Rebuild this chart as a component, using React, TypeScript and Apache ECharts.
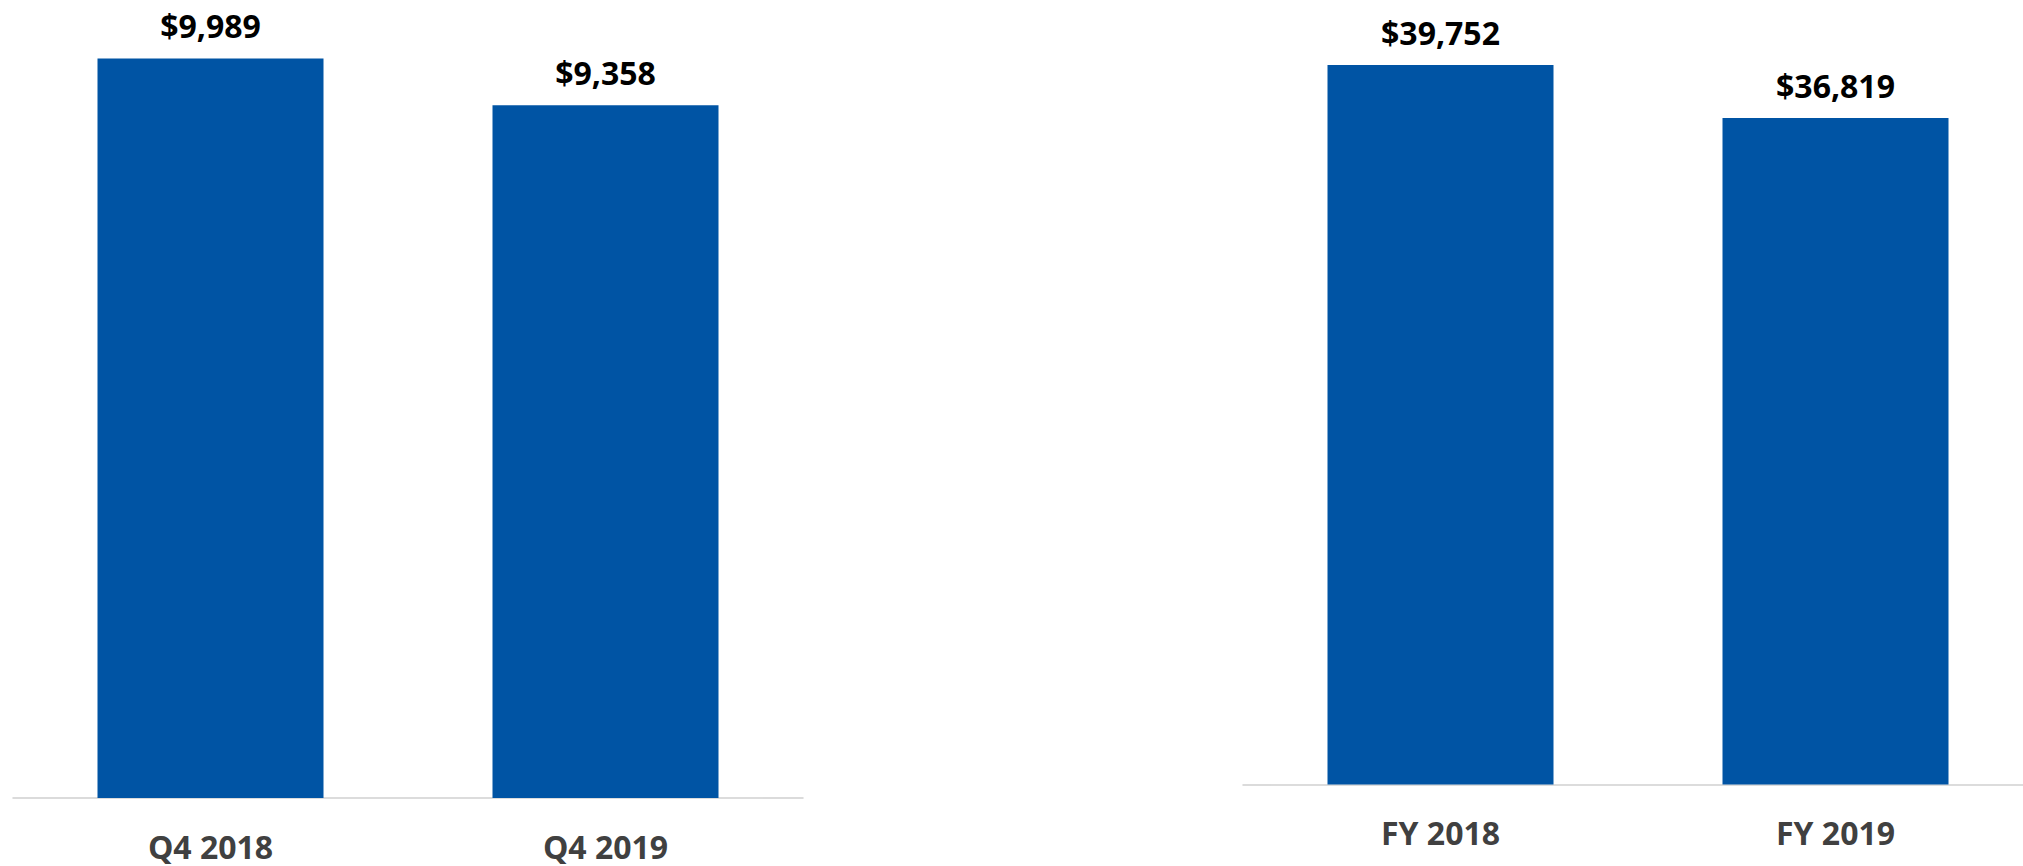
import React, { useEffect, useRef } from "react";
import * as echarts from "echarts";

const quarterCategories = ["Q4 2018", "Q4 2019"];
const quarterValues = [9989, 9358];
const yearCategories = ["FY 2018", "FY 2019"];
const yearValues = [39752, 36819];

const BAR_COLOR = "#0054A4";
const FONT = "'Open Sans', 'Noto Sans', sans-serif";

const fmt = (v: number) => "$" + v.toLocaleString("en-US");

export default function App() {
  const ref = useRef<HTMLDivElement>(null);
  useEffect(() => {
    if (!ref.current) return;
    const chart = echarts.init(ref.current, undefined, { renderer: "svg" });
    const xAxisBase = (gridIndex: number, data: string[]) => ({
      type: "category" as const,
      gridIndex,
      data,
      axisLine: { show: true, lineStyle: { color: "#d0d0d0", width: 1.5 } },
      axisTick: { show: false },
      axisLabel: {
        color: "#404040",
        fontFamily: FONT,
        fontWeight: "bold" as const,
        fontSize: 32,
        margin: 32,
      },
      splitLine: { show: false },
    });
    const yAxisBase = (gridIndex: number) => ({
      type: "value" as const,
      gridIndex,
      min: 0,
      max: "dataMax",
      show: false,
      splitLine: { show: false },
    });
    const seriesBase = (i: number, data: number[]) => ({
      type: "bar" as const,
      xAxisIndex: i,
      yAxisIndex: i,
      data,
      barWidth: 226,
      itemStyle: { color: BAR_COLOR },
      label: {
        show: true,
        position: "top" as const,
        distance: 17,
        color: "#000000",
        fontFamily: FONT,
        fontWeight: "bold" as const,
        fontSize: 32,
        formatter: (p: any) => fmt(p.value),
      },
    });
    chart.setOption({
      animation: false,
      backgroundColor: "#ffffff",
      grid: [
        { left: 13, width: 790, top: 58.5, bottom: 68 },
        { left: 1243, width: 790, top: 65, bottom: 81.5 },
      ],
      xAxis: [xAxisBase(0, quarterCategories), xAxisBase(1, yearCategories)],
      yAxis: [yAxisBase(0), yAxisBase(1)],
      series: [seriesBase(0, quarterValues), seriesBase(1, yearValues)],
    });
    return () => chart.dispose();
  }, []);
  return (
    <div
      style={{
        position: "absolute",
        left: 0,
        top: 0,
        width: 2023,
        height: 866,
        overflow: "hidden",
        background: "#ffffff",
      }}
    >
      <div ref={ref} style={{ width: 2040, height: 866 }} />
    </div>
  );
}
